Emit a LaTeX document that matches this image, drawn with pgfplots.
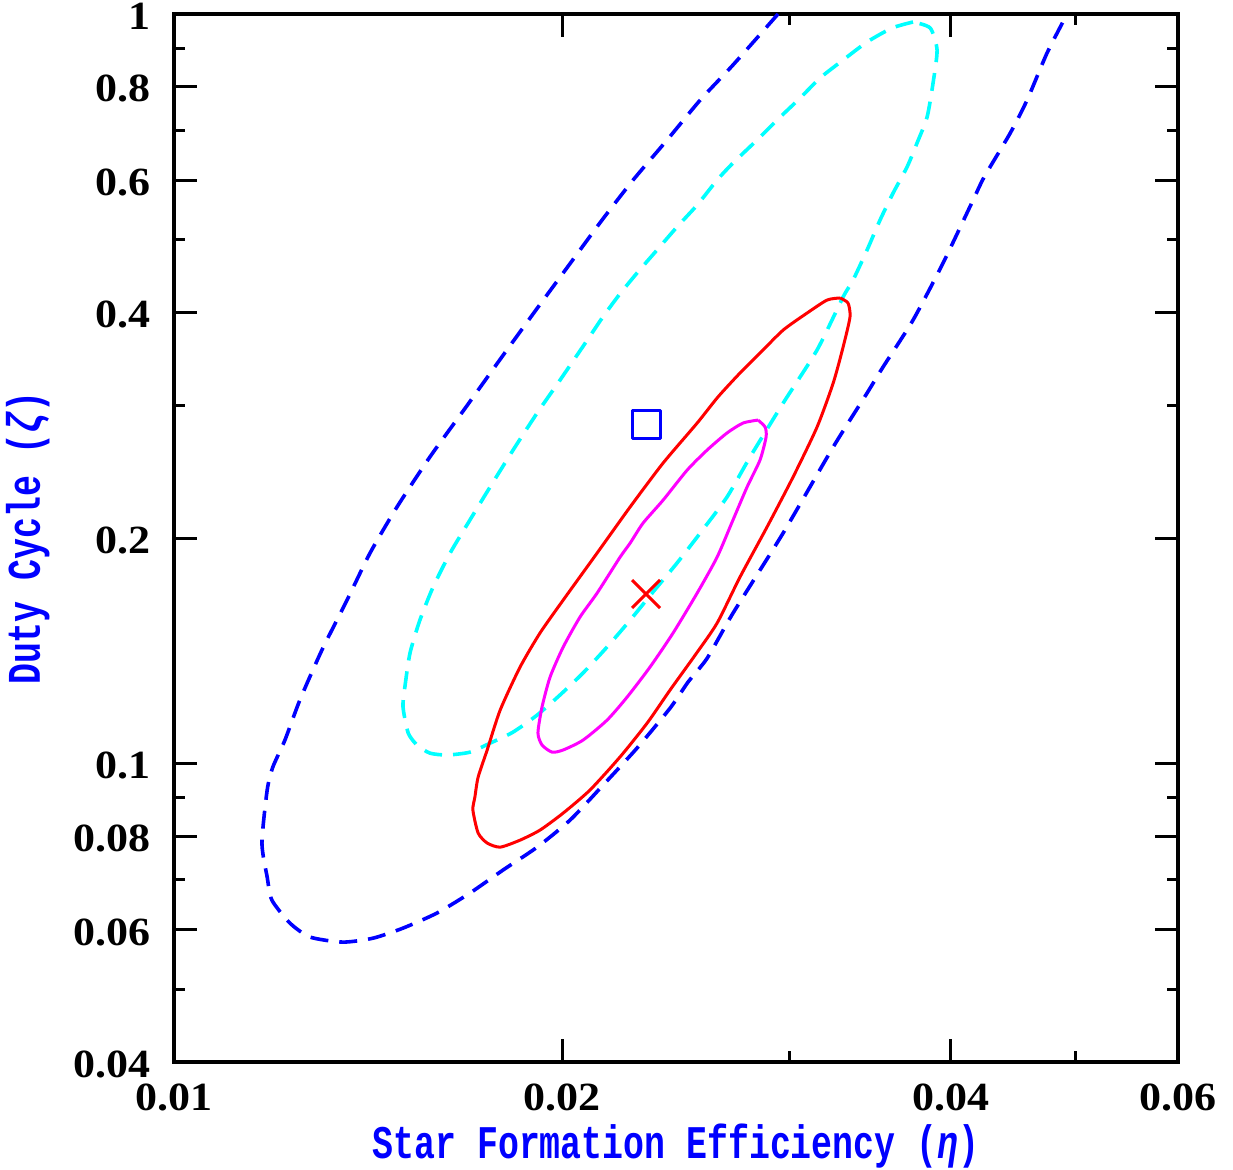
\documentclass[border=0pt]{standalone}
\usepackage{fontspec}
\setmainfont{Liberation Serif}
\newfontfamily\ticksfont{Liberation Serif}[FakeStretch=1.1]
\newfontfamily\labelfont{Liberation Mono}[FakeStretch=0.745]
\usepackage{pgfplots}
\pgfplotsset{compat=1.18}
\definecolor{cblue}{RGB}{0,0,255}
\definecolor{ccyan}{RGB}{0,255,255}
\definecolor{cred}{RGB}{255,0,0}
\definecolor{cmag}{RGB}{255,0,255}

\begin{document}
\begin{tikzpicture}
\path[use as bounding box] (-87pt,-54pt) rectangle (529.5pt,531pt);
\begin{axis}[
  at={(0,0)}, anchor=south west,
  xmode=log, ymode=log,
  scale only axis, width=502pt, height=524pt,
  xmin=0.01, xmax=0.06, ymin=0.04, ymax=1,
  xtick={0.01,0.02,0.04,0.06}, xticklabels={0.01,0.02,0.04,0.06},
  minor xtick={0.03,0.05},
  ytick={0.04,0.06,0.08,0.1,0.2,0.4,0.6,0.8,1},
  yticklabels={0.04,0.06,0.08,0.1,0.2,0.4,0.6,0.8,1},
  minor ytick={0.05,0.07,0.09,0.3,0.5,0.7,0.9},
  tick align=inside, major tick length=11.5pt, minor tick length=5.5pt,
  every tick/.style={black, line width=1.5pt},
  axis line style={line width=1.6pt},
  ticklabel style={font=\fontsize{20}{24}\ticksfont\bfseries, inner sep=0pt},
  xticklabel style={anchor=base, yshift=-24pt},
  yticklabel style={anchor=east, xshift=-11.5pt, yshift=-1pt},
  xlabel={Star Formation Efficiency (\textit{η})},
  ylabel={Duty Cycle (\textit{ζ})},
  label style={font=\fontsize{23.4}{26}\labelfont\bfseries, text=cblue, inner sep=0pt},
  xlabel style={at={([yshift=-48pt]axis description cs:0.5,0)}, anchor=base},
  ylabel style={at={([xshift=-67pt]axis description cs:0,0.5)}, anchor=base},
  every axis plot/.append style={line width=1.5pt, line join=round, smooth, tension=0.4},
]
% outer dashed contour (open at the top)
\addplot[cblue, line width=1.8pt, dash pattern=on 9pt off 5.5pt] coordinates {
(0.02939,1)(0.02712,0.8551)(0.02558,0.7680)(0.02411,0.6791)(0.02269,0.6005)
(0.02147,0.5312)(0.02024,0.4626)(0.01908,0.4028)(0.01793,0.3476)(0.01684,0.2990)
(0.01579,0.2565)(0.01489,0.2200)(0.01419,0.1910)(0.01362,0.1653)(0.01302,0.1417)
(0.01252,0.1216)(0.01219,0.1075)(0.01193,0.09897)(0.01181,0.09222)(0.01170,0.07837)
(0.01181,0.07059)(0.01191,0.06577)(0.01230,0.06128)(0.01275,0.05871)(0.01352,0.05781)
(0.01427,0.05852)(0.01505,0.06035)(0.01599,0.06320)(0.01696,0.06721)(0.01799,0.07213)
(0.01912,0.07740)(0.02028,0.08411)(0.02151,0.09365)(0.02285,0.1049)(0.02424,0.1186)
(0.02503,0.1285)(0.02590,0.1383)(0.02712,0.1588)(0.02966,0.2031)(0.03243,0.2645)
(0.03445,0.3122)(0.03545,0.3382)(0.03740,0.3907)(0.03946,0.4654)(0.04163,0.5648)
(0.04246,0.6062)(0.04448,0.6938)(0.04584,0.7680)(0.04750,0.8872)(0.04923,1)};
% cyan dashed contour
\addplot[ccyan, line width=1.8pt, dash pattern=on 9pt off 5.5pt] coordinates {
(0.03740,0.9758)(0.03603,0.9579)(0.03445,0.9176)(0.03301,0.8682)(0.03168,0.8216)
(0.03057,0.7726)(0.02934,0.7221)(0.02831,0.6791)(0.02712,0.6328)(0.02636,0.6005)
(0.02544,0.5562)(0.02454,0.5199)(0.02368,0.4844)(0.02285,0.4513)(0.02213,0.4219)
(0.02147,0.3931)(0.02086,0.3651)(0.01992,0.3249)(0.01912,0.2936)(0.01832,0.2621)
(0.01758,0.2339)(0.01696,0.2114)(0.01637,0.1910)(0.01588,0.1720)(0.01551,0.1554)
(0.01524,0.1405)(0.01510,0.1265)(0.01505,0.1190)(0.01519,0.1099)(0.01543,0.1059)
(0.01579,0.1033)(0.01628,0.1027)(0.01696,0.1036)(0.01758,0.1065)(0.01832,0.1102)
(0.01912,0.1161)(0.01992,0.1235)(0.02075,0.1321)(0.02166,0.1431)(0.02257,0.1554)
(0.02351,0.1694)(0.02454,0.1852)(0.02558,0.2031)(0.02683,0.2268)(0.02796,0.2565)
(0.02966,0.3027)(0.03151,0.3563)(0.03301,0.4193)(0.03360,0.4417)(0.03445,0.4844)
(0.03526,0.5312)(0.03609,0.5771)(0.03700,0.6251)(0.03767,0.6729)(0.03835,0.7288)
(0.03876,0.8090)(0.03904,0.8953)(0.03856,0.9579)(0.03740,0.9758)};
% red solid contour
\addplot[cred] coordinates {
(0.03283,0.4180)(0.03208,0.4154)(0.03095,0.3991)(0.02966,0.3788)(0.02846,0.3530)
(0.02746,0.3320)(0.02640,0.3084)(0.02544,0.2847)(0.02394,0.2518)(0.02257,0.2200)
(0.02128,0.1910)(0.02003,0.1653)(0.01922,0.1494)(0.01855,0.1346)(0.01790,0.1179)
(0.01749,0.1043)(0.01721,0.09597)(0.01711,0.09025)(0.01705,0.08672)(0.01721,0.08081)
(0.01749,0.07837)(0.01790,0.07740)(0.01855,0.07909)(0.01922,0.08155)(0.02003,0.08593)
(0.02101,0.09222)(0.02217,0.1021)(0.02327,0.1133)(0.02424,0.1254)(0.02535,0.1396)
(0.02636,0.1540)(0.02746,0.1774)(0.02882,0.2069)(0.03019,0.2412)(0.03151,0.2812)
(0.03243,0.3219)(0.03301,0.3596)(0.03342,0.3943)(0.03330,0.4116)(0.03283,0.4180)};
% magenta solid contour
\addplot[cmag] coordinates {
(0.02836,0.2873)(0.02761,0.2847)(0.02683,0.2761)(0.02590,0.2621)(0.02499,0.2464)
(0.02394,0.2247)(0.02310,0.2094)(0.02257,0.1969)(0.02217,0.1886)(0.02128,0.1689)
(0.02064,0.1569)(0.02003,0.1431)(0.01957,0.1305)(0.01929,0.1190)(0.01915,0.1099)
(0.01929,0.1059)(0.01964,0.1036)(0.02003,0.1043)(0.02075,0.1075)(0.02166,0.1143)
(0.02245,0.1227)(0.02339,0.1346)(0.02437,0.1494)(0.02544,0.1689)(0.02636,0.1886)
(0.02712,0.2114)(0.02781,0.2339)(0.02846,0.2541)(0.02877,0.2727)(0.02872,0.2812)
(0.02836,0.2873)};
% markers
\addplot[only marks, mark=square, mark size=7pt, cblue, line width=1.5pt] coordinates {(0.02322,0.2830)};
\addplot[only marks, mark=x, mark size=9.9pt, cred, line width=1.5pt] coordinates {(0.02322,0.1684)};
\end{axis}
\end{tikzpicture}
\end{document}
